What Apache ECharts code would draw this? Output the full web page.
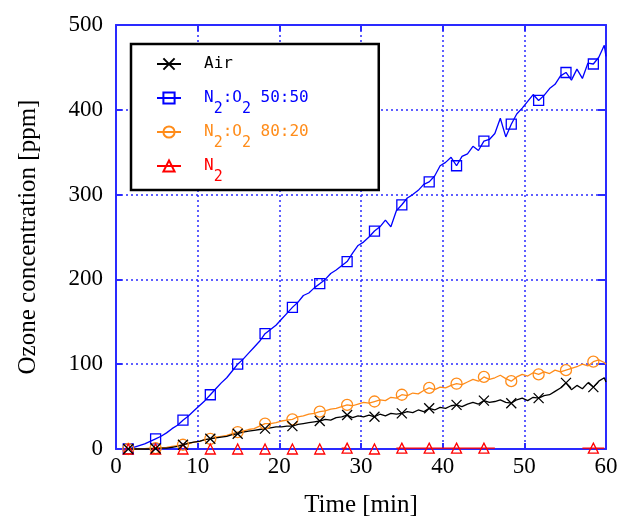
<!DOCTYPE html>
<html>
<head>
<meta charset="utf-8">
<script src="https://cdn.jsdelivr.net/npm/echarts@6/dist/echarts.min.js"></script>
<style>
html, body { margin: 0; padding: 0; background: #fff; }
#chart { width: 630px; height: 523px; }
</style>
</head>
<body>
<div id="chart"></div>
<script>
// legend names, in legend order
var seriesNames = ['Air', 'N2:O2 50:50', 'N2:O2 80:20', 'N2'];

// time axis [min], every 5th sample carries a marker
var timeMin = [
  1.5, 2.17, 2.84, 3.51, 4.18, 4.85, 5.52, 6.19, 6.86, 7.53,
  8.2, 8.87, 9.54, 10.21, 10.88, 11.55, 12.22, 12.89, 13.56, 14.23,
  14.9, 15.57, 16.24, 16.91, 17.58, 18.25, 18.92, 19.59, 20.26, 20.93,
  21.6, 22.27, 22.94, 23.61, 24.28, 24.95, 25.62, 26.29, 26.96, 27.63,
  28.3, 28.97, 29.64, 30.31, 30.98, 31.65, 32.32, 32.99, 33.66, 34.33,
  35.0, 35.67, 36.34, 37.01, 37.68, 38.35, 39.02, 39.69, 40.36, 41.03,
  41.7, 42.37, 43.04, 43.71, 44.38, 45.05, 45.72, 46.39, 47.06, 47.73,
  48.4, 49.07, 49.74, 50.41, 51.08, 51.75, 52.42, 53.09, 53.76, 54.43,
  55.1, 55.77, 56.44, 57.11, 57.78, 58.45, 59.12, 59.79, 60.0
];

// ozone [ppm]
var airPpm = [
  0, 0, 0, 0, 0, 0.5, 1, 1, 2, 3,
  5, 7, 8, 9, 11, 12, 13, 14, 15, 17,
  18, 20, 21, 22, 23, 24, 25, 26, 26, 27,
  27, 29, 30, 31, 32, 33, 35, 34, 37, 38,
  40, 37, 39, 38, 40, 38, 41, 39, 42, 41,
  42, 44, 43, 46, 44, 48, 46, 49, 48, 51,
  52, 50, 53, 55, 53, 57, 55, 56, 58, 55,
  54, 58, 60, 57, 61, 60, 63, 64, 68, 72,
  78, 70, 75, 71, 78, 73, 80, 84, 79
];
var mix5050Ppm = [
  0, 2, 4, 6, 9, 12, 15, 19, 24, 28,
  34, 39, 45, 51, 57, 64, 71, 78, 84, 92,
  100, 106, 113, 120, 127, 136, 141, 146, 153, 160,
  167, 173, 181, 184, 190, 195, 200, 207, 211, 216,
  221, 231, 240, 244, 250, 257, 262, 270, 262, 281,
  288, 296, 300, 305, 312, 315, 322, 334, 338, 344,
  334, 345, 348, 357, 352, 363, 365, 372, 390, 368,
  383, 395, 402, 410, 418, 411, 417, 425, 430, 440,
  444, 435, 448, 437, 455, 454, 462, 476, 463
];
var mix8020Ppm = [
  0, 0, 0, 0.5, 1, 1, 1.5, 2, 3, 4,
  5, 6, 8, 9, 11, 12, 14, 15, 16, 18,
  20, 21, 23, 24, 27, 30, 30, 31, 33, 34,
  35, 38, 39, 41, 42, 44, 45, 47, 48, 50,
  52, 51, 53, 55, 54, 56, 58, 57, 61, 60,
  64, 63, 66, 65, 69, 72, 70, 73, 72, 75,
  77, 76, 79, 82, 80, 85, 82, 84, 87, 83,
  80, 85, 88, 86, 90, 88, 91, 89, 93, 91,
  93, 95, 97, 100, 98, 103, 105, 102, 100
];
// N2: null where no trace is visible
var n2Ppm = [
  0, null, null, null, null, 0, null, null, null, null,
  0, null, null, null, null, 0, null, null, null, null,
  0, null, null, null, null, 0, null, null, null, null,
  0, null, null, null, null, 0, null, null, null, 1,
  1, null, null, null, null, 0, null, null, null, 1,
  1, 1, 1, 1, 1, 1, 1, 1, 1, 1,
  1, 1, 1, 1, 1, 1, 1, 1, null, null,
  null, null, null, null, null, null, null, null, null, null,
  null, null, null, 1, 1, 1, 1, 1, null
];

var xMin = 0, xMax = 60, xStep = 10;
var yMin = 0, yMax = 500, yStep = 100;

function drawChart(id) {
  var myChart = echarts.init(document.getElementById(id));

  var axisBlue = '#2a2aff';
  var colors = {
    'Air': '#000000',
    'N2:O2 50:50': '#0000ff',
    'N2:O2 80:20': '#ff8c1a',
    'N2': '#ff0000'
  };
  var serif = '"Liberation Serif", "Times New Roman", serif';
  var mono = '"DejaVu Sans Mono", "Liberation Mono", monospace';

  function pairs(ys) {
    return timeMin.map(function (t, i) { return [t, ys[i]]; });
  }
  // markers only on every 5th sample
  function markerSize(size) {
    return function (val, params) {
      return (params.dataIndex % 5 === 0 && params.dataIndex < timeMin.length - 1) ? size : 0;
    };
  }
  function lineSeries(name, ys, symbol, size) {
    return {
      name: name,
      type: 'line',
      data: pairs(ys),
      symbol: symbol,
      symbolSize: markerSize(size),
      showAllSymbol: true,
      clip: false,
      itemStyle: { color: 'rgba(0,0,0,0)', borderColor: colors[name], borderWidth: 1.3 },
      lineStyle: { color: colors[name], width: 1.3 },
      emphasis: { disabled: true },
      z: 10
    };
  }

  // N2 -> N{sub 2}
  function legendText(name) {
    var parts = name.split(/([NO]2)/);
    var out = '{g| }';
    for (var i = 0; i < parts.length; i++) {
      if (!parts[i]) continue;
      if (parts[i] === 'N2' || parts[i] === 'O2') {
        out += '{m|' + parts[i].charAt(0) + '}{s|2}';
      } else {
        out += '{m|' + parts[i] + '}';
      }
    }
    return out;
  }

  var option = {
    animation: false,
    backgroundColor: '#fff',
    grid: { left: 116, right: 24, top: 25, bottom: 74, show: false },
    legend: {
      orient: 'vertical',
      left: 131,
      top: 44,
      z: 20,
      selectedMode: false,
      itemWidth: 24,
      itemHeight: 14,
      itemGap: -4,
      padding: [1, 70, 5, 25],
      borderColor: '#000',
      borderWidth: 2.5,
      backgroundColor: '#fff',
      data: seriesNames.map(function (n) {
        return { name: n, textStyle: { color: colors[n] } };
      }),
      formatter: legendText,
      textStyle: {
        fontFamily: mono,
        fontSize: 16,
        rich: {
          g: { width: 18 },
          m: { fontFamily: mono, fontSize: 16, lineHeight: 14, padding: [11, 0, 11, 0] },
          s: { fontFamily: mono, fontSize: 15, lineHeight: 14, padding: [22, 0, 0, 0] }
        }
      }
    },
    xAxis: [{
      type: 'value',
      min: xMin, max: xMax, interval: xStep,
      name: 'Time [min]',
      nameLocation: 'middle',
      nameGap: 44,
      nameTextStyle: { fontFamily: serif, fontSize: 25, color: '#000' },
      axisLine: { onZero: false, lineStyle: { color: axisBlue, width: 2 } },
      axisTick: { inside: true, length: 6, lineStyle: { color: axisBlue, width: 2 } },
      axisLabel: { margin: 6, fontFamily: serif, fontSize: 23, color: '#000' },
      splitLine: { show: true, lineStyle: { color: axisBlue, width: 1.5, type: [2, 3] } }
    }, {
      type: 'value',
      position: 'top',
      min: xMin, max: xMax, interval: xStep,
      axisLine: { onZero: false, lineStyle: { color: axisBlue, width: 2 } },
      axisTick: { inside: true, length: 6, lineStyle: { color: axisBlue, width: 2 } },
      axisLabel: { show: false },
      splitLine: { show: false }
    }],
    yAxis: [{
      type: 'value',
      min: yMin, max: yMax, interval: yStep,
      name: 'Ozone concentration [ppm]',
      nameLocation: 'middle',
      nameGap: 75,
      nameTextStyle: { fontFamily: serif, fontSize: 25, color: '#000' },
      axisLine: { show: true, onZero: false, lineStyle: { color: axisBlue, width: 2 } },
      axisTick: { show: true, inside: true, length: 6, lineStyle: { color: axisBlue, width: 2 } },
      axisLabel: { margin: 13, fontFamily: serif, fontSize: 23, color: '#000' },
      splitLine: { show: true, lineStyle: { color: axisBlue, width: 1.5, type: [2, 3] } }
    }, {
      type: 'value',
      position: 'right',
      min: yMin, max: yMax, interval: yStep,
      axisLine: { show: true, onZero: false, lineStyle: { color: axisBlue, width: 2 } },
      axisTick: { show: true, inside: true, length: 8, lineStyle: { color: axisBlue, width: 2 } },
      axisLabel: { show: false },
      splitLine: { show: false }
    }],
    series: [
      lineSeries('N2:O2 50:50', mix5050Ppm, 'rect', 10),
      lineSeries('N2:O2 80:20', mix8020Ppm, 'circle', 11),
      lineSeries('N2', n2Ppm, 'triangle', 10),
      lineSeries('Air', airPpm, 'path://M0,0L10,10M10,0L0,10', 10)
    ]
  };

  myChart.setOption(option);

  window.addEventListener('resize', function () {
    myChart.resize();
  });
}

drawChart('chart');
</script>
</body>
</html>
